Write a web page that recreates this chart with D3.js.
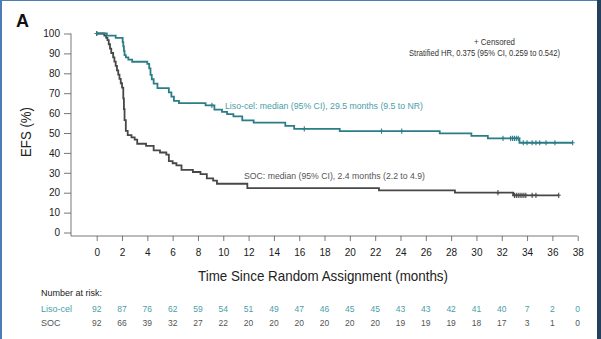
<!DOCTYPE html>
<html>
<head>
<meta charset="utf-8">
<script src="https://cdn.jsdelivr.net/npm/d3@7"></script>
<style>
  body { margin: 0; background: #fff; }
  svg { display: block; font-family: "Liberation Sans", Arial, sans-serif; }
</style>
</head>
<body>
<script>
// Kaplan-Meier step data (time in months, EFS %)
const lisoTimes = [0, 0.8, 1.5, 2.05, 2.1, 2.15, 2.2, 2.3, 2.5, 2.8, 4.0, 4.15, 4.25, 4.35, 4.5, 4.8, 5.7, 5.9, 6.1, 6.5, 8.6, 9.3, 9.9, 10.3, 10.8, 11.5, 12.4, 14.9, 15.6, 19.2, 27.1, 29.6, 30.9, 33.4, 37.6];
const lisoSurv  = [100, 98.9, 97.8, 95.7, 93.5, 91.3, 89.1, 88, 86.9, 85.8, 84.7, 82.5, 79.2, 77, 74.8, 72.6, 70.4, 68.3, 66.1, 65, 63.9, 61.7, 60.6, 59.5, 58.4, 56.3, 55.2, 53.6, 52.1, 50.9, 49.8, 48.6, 47.3, 45.1, 45.1];
const lisoCensored = [0, 9.1, 16.4, 22.5, 24.1, 32.1, 32.7, 32.85, 33.0, 33.15, 33.3, 33.7, 34.0, 34.4, 34.7, 35.0, 35.5, 36.2, 37.6];

const socTimes = [0, 0.6, 0.75, 0.85, 0.95, 1.05, 1.15, 1.3, 1.4, 1.5, 1.6, 1.7, 1.8, 1.9, 2.0, 2.1, 2.15, 2.2, 2.3, 2.45, 2.75, 3.0, 3.2, 3.9, 4.5, 5.0, 5.5, 5.7, 6.0, 6.3, 6.7, 7.6, 8.2, 8.7, 9.2, 9.5, 11.9, 22.3, 28.3, 32.9, 36.5];
const socSurv  = [100, 98.9, 97.8, 96.7, 94.6, 92.4, 90.2, 88, 85.9, 83.7, 81.5, 79.3, 77.2, 75, 72.8, 67.4, 62, 56.5, 51.1, 48.9, 47.8, 46.7, 44.6, 43.5, 41.3, 40.2, 39.1, 35.9, 34.8, 33.7, 31.5, 30.4, 29.3, 27.2, 26.1, 24.5, 22.3, 21.2, 20.0, 18.7, 18.7];
const socCensored = [0, 31.7, 33.0, 33.15, 33.3, 33.45, 33.6, 33.75, 33.9, 34.4, 34.7, 36.5];

// Number at risk table
const riskTimes = [0, 2, 4, 6, 8, 10, 12, 14, 16, 18, 20, 22, 24, 26, 28, 30, 32, 34, 36, 38];
const lisoRisk = [92, 87, 76, 62, 59, 54, 51, 49, 47, 46, 45, 45, 43, 43, 42, 41, 40, 7, 2, 0];
const socRisk  = [92, 66, 39, 32, 27, 22, 20, 20, 20, 20, 20, 20, 19, 19, 19, 18, 17, 3, 1, 0];

const xTicks = d3.range(0, 39, 2);
const yTicks = d3.range(0, 101, 10);

const lisoColor = "#2b7d87";
const lisoText = "#4a9ea9";
const socColor = "#474747";

const width = 601, height = 339;

const svg = d3.select("body")
    .append("svg")
    .attr("width", width)
    .attr("height", height);

// frame
svg.append("rect").attr("x", 0).attr("y", 0).attr("width", 2).attr("height", height).attr("fill", "#4a7db5");
svg.append("rect").attr("x", 0).attr("y", 0).attr("width", width).attr("height", 1).attr("fill", "#4a7db5");
svg.append("rect").attr("x", 597).attr("y", 0).attr("width", 4).attr("height", height).attr("fill", "#24405f");

// scales
const x = d3.scaleLinear().domain([0, 38]).range([96.7, 577.7]);
const y = d3.scaleLinear().domain([0, 100]).range([232.5, 33.5]);

const axisLeftX = 71;
const axisBottomY = 236;

// axes
const yAxis = svg.append("g")
    .attr("transform", `translate(${axisLeftX},0)`)
    .call(d3.axisLeft(y).tickValues(yTicks).tickSize(7).tickPadding(4));
const xAxis = svg.append("g")
    .attr("transform", `translate(0,${axisBottomY})`)
    .call(d3.axisBottom(x).tickValues(xTicks).tickSize(5).tickPadding(8));

[yAxis, xAxis].forEach(g => {
    g.select(".domain").remove();
    g.selectAll("line").attr("stroke", "#555").attr("stroke-width", 0.8);
    g.selectAll("text").attr("fill", "#1a1a1a").style("font-size", "10px").style("font-family", "Liberation Sans, Arial, sans-serif");
});

svg.append("line")
    .attr("x1", axisLeftX).attr("x2", axisLeftX)
    .attr("y1", y(100)).attr("y2", axisBottomY)
    .attr("stroke", "#555").attr("stroke-width", 0.8);
svg.append("line")
    .attr("x1", axisLeftX).attr("x2", x(38))
    .attr("y1", axisBottomY).attr("y2", axisBottomY)
    .attr("stroke", "#555").attr("stroke-width", 0.8);

// curves
const step = d3.line()
    .x(d => x(d[0]))
    .y(d => y(d[1]))
    .curve(d3.curveStepAfter);

const lisoData = lisoTimes.map((t, i) => [t, lisoSurv[i]]);
const socData = socTimes.map((t, i) => [t, socSurv[i]]);

function survAt(times, surv, t) {
    let v = surv[0];
    for (let i = 0; i < times.length; i++) if (times[i] <= t) v = surv[i];
    return v;
}

function drawCurve(data, censored, times, surv, color) {
    svg.append("path")
        .datum(data)
        .attr("fill", "none")
        .attr("stroke", color)
        .attr("stroke-width", 1.8)
        .attr("d", step);

    svg.selectAll(null)
        .data(censored)
        .enter().append("path")
        .attr("transform", d => `translate(${x(d)},${y(survAt(times, surv, d))})`)
        .attr("d", "M0,-2.6V2.6M-2,0H2")
        .attr("stroke", color)
        .attr("stroke-width", 1.1)
        .attr("fill", "none");
}

drawCurve(socData, socCensored, socTimes, socSurv, socColor);
drawCurve(lisoData, lisoCensored, lisoTimes, lisoSurv, lisoColor);

// labels
svg.append("text")
    .attr("x", 16).attr("y", 27)
    .style("font-size", "18px").style("font-weight", "bold")
    .attr("fill", "#111")
    .text("A");

svg.append("text")
    .attr("transform", "translate(31,132) rotate(-90)")
    .attr("text-anchor", "middle")
    .attr("textLength", 50).attr("lengthAdjust", "spacingAndGlyphs")
    .style("font-size", "15px")
    .attr("fill", "#222")
    .text("EFS (%)");

svg.append("text")
    .attr("x", 323).attr("y", 281)
    .attr("text-anchor", "middle")
    .attr("textLength", 250).attr("lengthAdjust", "spacingAndGlyphs")
    .style("font-size", "15px")
    .attr("fill", "#222")
    .text("Time Since Random Assignment (months)");

// annotation text, fitted to fixed widths
function note(xPos, yPos, w, color, str) {
    svg.append("text")
        .attr("x", xPos).attr("y", yPos)
        .attr("textLength", w).attr("lengthAdjust", "spacingAndGlyphs")
        .style("font-size", "8.6px").attr("fill", color)
        .text(str);
}

note(474, 45, 41, "#333", "+ Censored");
note(409, 56, 151, "#333", "Stratified HR, 0.375 (95% CI, 0.259 to 0.542)");
note(225, 109, 198, lisoText, "Liso-cel: median (95% CI), 29.5 months (9.5 to NR)");
note(244, 178.5, 181, "#555", "SOC: median (95% CI), 2.4 months (2.2 to 4.9)");

// number at risk
svg.append("text")
    .attr("x", 41).attr("y", 296)
    .style("font-size", "9px").attr("fill", "#222")
    .text("Number at risk:");

const rows = [
    { name: "Liso-cel", values: lisoRisk, color: lisoText, y: 311.5 },
    { name: "SOC", values: socRisk, color: "#555", y: 325.5 }
];

rows.forEach(r => {
    svg.append("text")
        .attr("x", 41).attr("y", r.y)
        .style("font-size", "9px").attr("fill", r.color)
        .text(r.name);
    svg.selectAll(null)
        .data(r.values)
        .enter().append("text")
        .attr("x", (d, i) => x(riskTimes[i]))
        .attr("y", r.y)
        .attr("text-anchor", "middle")
        .style("font-size", "8.5px")
        .attr("fill", r.color)
        .text(d => d);
});
</script>
</body>
</html>
